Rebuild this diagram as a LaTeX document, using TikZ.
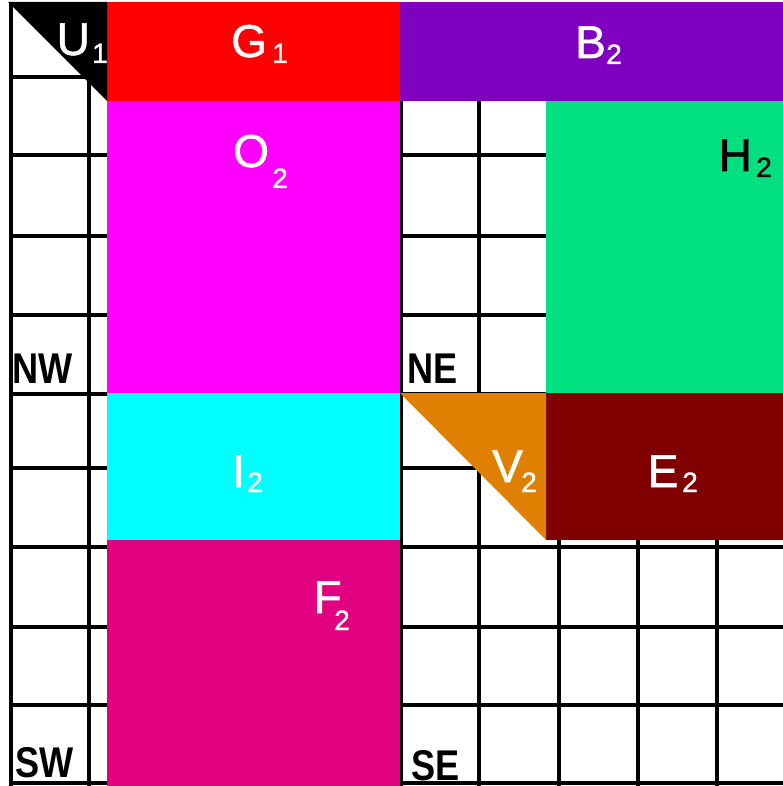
\documentclass[tikz,border=0pt]{standalone}
\usepackage{graphicx}
\usepackage{fontspec}
\setmainfont{Liberation Sans}
\newfontfamily\labfont{Liberation Sans}[FakeBold=1.2]
\definecolor{cred}{RGB}{255,0,0}
\definecolor{cpurple}{RGB}{128,0,192}
\definecolor{cmagenta}{RGB}{255,0,255}
\definecolor{cgreen}{RGB}{0,224,128}
\definecolor{ccyan}{RGB}{0,255,255}
\definecolor{cdarkred}{RGB}{128,0,0}
\definecolor{corange}{RGB}{224,128,0}
\definecolor{cpink}{RGB}{224,0,128}
\begin{document}
\begin{tikzpicture}[x=1pt,y=-1pt,
  gridline/.style={line width=4pt,black},
  lbl/.style={inner sep=0pt,anchor=base west,font=\labfont\fontsize{46}{46}\selectfont,text=white},
  sublbl/.style={inner sep=0pt,anchor=base west,font=\labfont\fontsize{28}{28}\selectfont,text=white},
  corner/.style={inner sep=0pt,anchor=base west,font=\bfseries\fontsize{43}{43}\selectfont,text=black}]
\useasboundingbox (0,0) rectangle (783,786);
\clip (0,0) rectangle (783,786);
\fill[white] (0,0) rectangle (783,786);
% grid
\foreach \x in {11,89,168,246,324,401,479,559,638,717}
  \draw[gridline] (\x,3) -- (\x,786);
\foreach \y in {5,77,155,236,315,394,468,547,627,705,783}
  \draw[gridline] (9,\y) -- (783,\y);
% tiles
\fill[cred] (107,2) rectangle (400,101);
\fill[cpurple] (400,2) rectangle (783,101);
\fill[cmagenta] (107,101) rectangle (400,393);
\fill[cgreen] (546,101) rectangle (783,393);
\fill[ccyan] (107,393) rectangle (400,540);
\fill[cdarkred] (546,393) rectangle (783,540);
\fill[cpink] (107,540) rectangle (400,786);
\fill[corange] (400,393) -- (546,393) -- (546,540) -- cycle;
\fill[black] (107,2) -- (107,101) -- (8,2) -- cycle;
% labels
\node[lbl] (G) at (231,57) {G};
\node[sublbl] (G1) at (272,63) {1};
\node[lbl] (B) at (575,58) {B};
\node[sublbl] (B2) at (606,64) {2};
\node[lbl] (O) at (233,167) {O};
\node[sublbl] (O2) at (272,188) {2};
\node[lbl,text=black] (H) at (718.5,171) {H};
\node[sublbl,text=black] (H2) at (756,177) {2};
\node[lbl] (I) at (232,487) {I};
\node[sublbl] (I2) at (247,492) {2};
\node[lbl] (V) at (492,482) {V};
\node[sublbl] (V2) at (521,492) {2};
\node[lbl] (E) at (647.5,487) {E};
\node[sublbl] (E2) at (682,492) {2};
\node[lbl] (F) at (313.5,613) {F};
\node[sublbl] (F2) at (334,630) {2};
\node[lbl] (U) at (56.5,55) {U};
\node[sublbl] (U1) at (92,63) {1};
% corner labels
\node[corner] (NW) at (12.5,383) {\scalebox{0.84}[1]{NW}};
\node[corner] (NE) at (407.5,383) {\scalebox{0.84}[1]{NE}};
\node[corner] (SW) at (15.5,777) {\scalebox{0.84}[1]{SW}};
\node[corner] (SE) at (411.5,780) {\scalebox{0.84}[1]{SE}};
\end{tikzpicture}
\end{document}
